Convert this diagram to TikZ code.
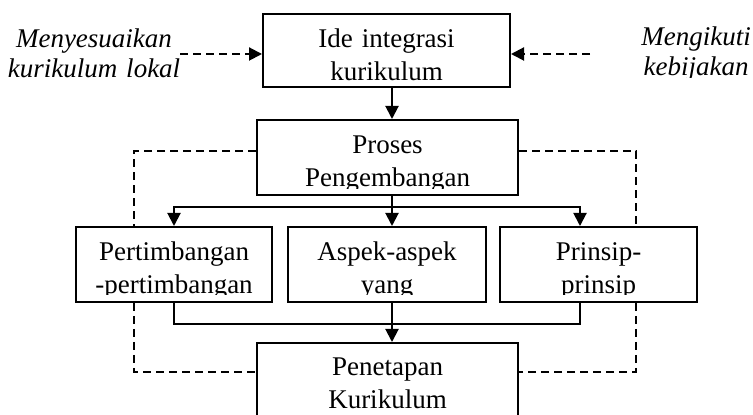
\documentclass[tikz,border=0pt]{standalone}
\usepackage{fontspec}
\setmainfont{Liberation Serif}
\usetikzlibrary{arrows.meta,positioning}

\begin{document}
\begin{tikzpicture}[x=0.5pt,y=-0.5pt,
  kotak/.style={draw,line width=1pt,inner sep=0pt,minimum height=37.5pt},
  teks/.style={text width=120pt,align=center,inner sep=0pt,anchor=base,
    font=\fontsize{13.5}{16.5}\selectfont},
  catatan/.style={teks,font=\fontsize{13.5}{15}\selectfont\itshape},
  garis/.style={line width=1pt},
  panah/.style={garis,-{Triangle[length=6.5pt,width=6.5pt]}},
  putus/.style={garis,dash pattern=on 4pt off 2.5pt}]
\useasboundingbox (0,0) rectangle (753,415);

% kotak
\node[kotak,minimum width=123.5pt,minimum height=36.5pt] (ide) at (386.5,50.5) {};
\node[kotak,minimum width=130.5pt] (proses) at (387.5,157.5) {};
\node[kotak,minimum width=99pt] (aspek) at (387,264.5) {};
\node[kotak,minimum width=98pt,left=7pt of aspek] (pert) {};
\node[kotak,minimum width=98.5pt,right=6pt of aspek] (prin) {};
\node[kotak,minimum width=130.5pt,minimum height=50pt] (tetap) at (387.5,393) {};

% teks dalam kotak
\begin{scope}
\clip (ide.north west) rectangle ([yshift=3pt]ide.south east);
\node[teks] (ideteks) at ([yshift=-17.5pt]ide.north) {Ide integrasi\\kurikulum};
\end{scope}
\begin{scope}
\clip (proses.north west) rectangle ([yshift=3.5pt]proses.south east);
\node[teks] (prosesteks) at ([yshift=-17.5pt]proses.north) {Proses\\Pengembangan};
\end{scope}
\begin{scope}
\clip (pert.north west) rectangle ([yshift=4pt]pert.south east);
\node[teks] (pertteks) at ([yshift=-17.5pt]pert.north) {Pertimbangan\\-pertimbangan};
\end{scope}
\begin{scope}
\clip (aspek.north west) rectangle ([yshift=4pt]aspek.south east);
\node[teks] (aspekteks) at ([yshift=-17.5pt]aspek.north) {Aspek-aspek\\yang};
\end{scope}
\begin{scope}
\clip (prin.north west) rectangle ([yshift=4pt]prin.south east);
\node[teks] (printeks) at ([yshift=-17.5pt]prin.north) {Prinsip-\\prinsip};
\end{scope}
\node[teks] (tetapteks) at ([yshift=-17pt]tetap.north) {Penetapan\\Kurikulum};

% catatan samping
\node[catatan] (sesuai) at (94,48) {Menyesuaikan\\kurikulum lokal};
\begin{scope}
\clip (600,0) rectangle (753,78);
\node[catatan] (ikut) at (696,46) {Mengikuti\\kebijakan};
\end{scope}
\coordinate (ujungkiri) at (180,54);
\coordinate (ujungkanan) at (590,54);
\draw[putus,panah] (ujungkiri) -- (ujungkiri -| ide.west);
\draw[putus,panah] (ujungkanan) -- (ujungkanan -| ide.east);

% alur utama
\coordinate (cabang) at (392,207);
\coordinate (gabung) at (392,324);
\draw[panah] (ide.south -| cabang) -- (proses.north -| cabang);
\draw[garis] (proses.south -| cabang) -- (cabang);
\draw[panah] (cabang) -| (pert.north);
\draw[panah] (cabang) -- (aspek.north -| cabang);
\draw[panah] (cabang) -| ([xshift=-9.25pt]prin.north);
\draw[garis] (pert.south) |- (gabung) -| ([xshift=-9.25pt]prin.south);
\draw[garis] (aspek.south -| gabung) -- (gabung);
\draw[panah] (gabung) -- (tetap.north -| gabung);

% garis putus-putus
\draw[putus] ([yshift=3pt]proses.west) -| ([xshift=-20pt]pert.north);
\draw[putus] ([yshift=3pt]proses.east) -| ([xshift=18.75pt]prin.north);
\draw[putus] ([xshift=-20pt]pert.south) |- ([yshift=-15pt]tetap.north west);
\draw[putus] ([xshift=18.75pt]prin.south) |- ([yshift=-15pt]tetap.north east);
\end{tikzpicture}
\end{document}
